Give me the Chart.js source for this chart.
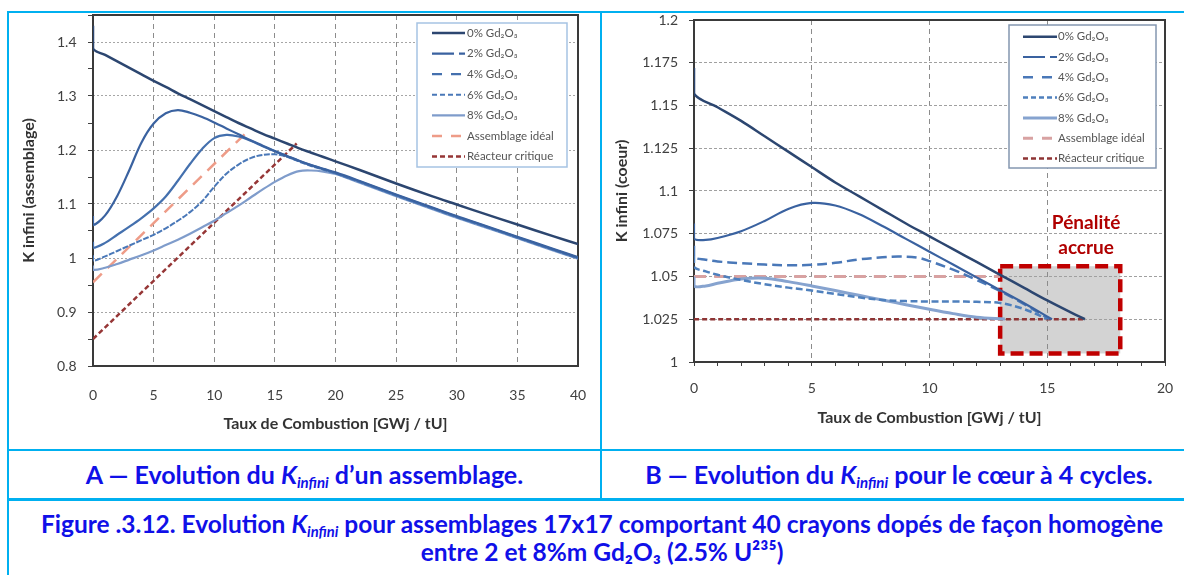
<!DOCTYPE html>
<html lang="fr">
<head>
<meta charset="utf-8">
<script src="https://cdn.jsdelivr.net/npm/chart.js@4.4.1/dist/chart.umd.min.js"></script>
<style>
  body { margin: 0; width: 1184px; height: 575px; overflow: hidden; background: #fff; position: relative; font-family: Lato, "Open Sans", sans-serif; }
  .ln { position: absolute; background: #00b0f0; }
  .chart { position: absolute; top: 13px; }
  .cap { position: absolute; color: #1010e8; font-weight: bold; text-align: center; white-space: nowrap; }
  .cap sub { font-size: 0.6em; vertical-align: -0.25em; line-height: 0; }
</style>
</head>
<body>
<div class="ln" style="left:7px; top:11px; width:1200px; height:2px"></div>
<div class="ln" style="left:7px; top:11px; width:2px; height:600px"></div>
<div class="ln" style="left:600px; top:11px; width:2px; height:489px"></div>
<div class="ln" style="left:7px; top:449px; width:1200px; height:2px"></div>
<div class="ln" style="left:7px; top:498px; width:1200px; height:3px"></div>

<canvas id="chartA" class="chart" width="590" height="436" style="left:9px"></canvas>
<canvas id="chartB" class="chart" width="573" height="436" style="left:603px"></canvas>

<div class="cap" style="left:9px; width:591px; top:451px; line-height:47px; font-size:25px">A — Evolution du <i>K<sub>infini</sub></i> d’un assemblage.</div>
<div class="cap" style="left:602px; width:594px; top:451px; line-height:47px; font-size:25px">B — Evolution du <i>K<sub>infini</sub></i> pour le cœur à 4 cycles.</div>
<div class="cap" style="left:9px; width:1186px; top:510px; line-height:28px; font-size:24.5px">Figure .3.12. Evolution <i>K<sub>infini</sub></i> pour assemblages 17x17 comportant 40 crayons dopés de façon homogène<br>entre 2 et 8%m Gd₂O₃ (2.5% U²³⁵)</div>

<script>
// Graphique A : assemblage
const burnupA = [0, 0, 1, 2, 3, 4, 5, 6, 7, 8, 9, 10, 11, 12, 13, 14, 15, 16, 17, 18, 19, 20, 22, 25, 28, 30, 32, 35, 38, 40];
const kA0 = [1.43, 1.388, 1.376, 1.364, 1.352, 1.340, 1.328, 1.317, 1.305, 1.294, 1.283, 1.272, 1.261, 1.250, 1.240, 1.230, 1.221, 1.212, 1.203, 1.195, 1.187, 1.179, 1.163, 1.138, 1.114, 1.099, 1.084, 1.062, 1.040, 1.026];
const kA2 = [1.078, 1.061, 1.079, 1.115, 1.163, 1.214, 1.249, 1.268, 1.274, 1.269, 1.261, 1.251, 1.240, 1.229, 1.218, 1.208, 1.198, 1.189, 1.180, 1.172, 1.165, 1.1585, 1.1425, 1.1175, 1.0935, 1.0775, 1.0625, 1.0395, 1.0165, 1.0015];
const kA4 = [1.030, 1.019, 1.028, 1.043, 1.058, 1.074, 1.092, 1.114, 1.143, 1.174, 1.202, 1.222, 1.228, 1.225, 1.217, 1.207, 1.1975, 1.1885, 1.1795, 1.1715, 1.1645, 1.1575, 1.1415, 1.1165, 1.0925, 1.0765, 1.0615, 1.0385, 1.0155, 1.0005];
const kA6 = [1.005, 0.995, 1.003, 1.013, 1.023, 1.033, 1.043, 1.055, 1.069, 1.085, 1.105, 1.132, 1.156, 1.173, 1.185, 1.191, 1.192, 1.1875, 1.1785, 1.1705, 1.1635, 1.1565, 1.1405, 1.1155, 1.0915, 1.0755, 1.0605, 1.0375, 1.0145, 0.9995];
const kA8 = [0.986, 0.978, 0.982, 0.989, 0.997, 1.005, 1.014, 1.024, 1.034, 1.045, 1.057, 1.069, 1.083, 1.097, 1.112, 1.127, 1.141, 1.153, 1.161, 1.162, 1.160, 1.1555, 1.1395, 1.1145, 1.0905, 1.0745, 1.0595, 1.0365, 1.0135, 0.9985];
const idealXA = [0, 13];
const idealKA = [0.955, 1.24];
const critXA = [0, 16.8];
const critKA = [0.85, 1.212];

// Graphique B : coeur à 4 cycles
const b0X = [0, 0, 1, 2, 3, 4, 5, 6, 7, 8, 9, 10, 11, 12, 13, 14, 15, 16, 16.6];
const b0K = [1.172, 1.157, 1.149, 1.141, 1.132, 1.123, 1.114, 1.105, 1.097, 1.089, 1.081, 1.0735, 1.066, 1.0585, 1.051, 1.0435, 1.036, 1.029, 1.025];
const b2X = [0, 0, 0.5, 1, 2, 3, 4, 5, 6, 7, 8, 9, 10, 11, 12, 13, 14, 15.2];
const b2K = [1.081, 1.0722, 1.0714, 1.0725, 1.0765, 1.0825, 1.0895, 1.093, 1.0915, 1.0865, 1.0795, 1.072, 1.0645, 1.057, 1.0495, 1.042, 1.0345, 1.025];
const b4X = [0, 0, 0.5, 1, 2, 3, 4, 5, 6, 7, 8, 8.7, 9.5, 10, 11, 12, 13, 14, 15.1];
const b4K = [1.068, 1.0615, 1.0598, 1.0588, 1.0578, 1.057, 1.0566, 1.0568, 1.058, 1.060, 1.0612, 1.0617, 1.061, 1.059, 1.054, 1.048, 1.0415, 1.034, 1.025];
const b6X = [0, 0, 0.5, 1, 2, 3, 4, 5, 6, 7, 8, 9, 10, 11, 12, 13, 14, 15];
const b6K = [1.062, 1.0555, 1.053, 1.051, 1.048, 1.0455, 1.0435, 1.0418, 1.0398, 1.0378, 1.0363, 1.0356, 1.0354, 1.0354, 1.0352, 1.0345, 1.031, 1.0252];
const b8X = [0, 0, 0.5, 1, 2, 3, 4, 5, 6, 7, 8, 9, 10, 11, 12, 13.2];
const b8K = [1.05, 1.0444, 1.0445, 1.046, 1.0485, 1.049, 1.047, 1.0445, 1.0418, 1.039, 1.0363, 1.0335, 1.0308, 1.0283, 1.0262, 1.0252];
const idealXB = [0, 13];
const idealKB = [1.05, 1.05];
const critXB = [0, 16.6];
const critKB = [1.025, 1.025];
const penaltyX = [13, 18.1];
const penaltyK = [1.005, 1.056];

const labels = ["0% Gd₂O₃", "2% Gd₂O₃", "4% Gd₂O₃", "6% Gd₂O₃", "8% Gd₂O₃", "Assemblage idéal", "Réacteur critique"];

function serie(label, xs, ys, color, width, dash, legendDash) {
  return {
    label: label,
    data: xs.map((x, i) => ({ x: x, y: ys[i] })),
    borderColor: color,
    backgroundColor: color,
    borderWidth: width,
    borderDash: dash,
    legendDash: legendDash || dash,
    pointRadius: 0,
    tension: 0.35,
    fill: false
  };
}

// cadre noir autour de la zone de tracé
const plotFrame = {
  id: 'plotFrame',
  beforeDatasetsDraw(chart) {
    const { ctx, chartArea: a } = chart;
    ctx.save();
    ctx.strokeStyle = '#3a3a3a';
    ctx.lineWidth = 2;
    ctx.strokeRect(a.left, a.top, a.right - a.left, a.bottom - a.top);
    ctx.restore();
  }
};

// légende encadrée dans le coin haut droit
const boxLegend = {
  id: 'boxLegend',
  afterDatasetsDraw(chart, args, o) {
    const { ctx, chartArea: a } = chart;
    const x = a.right - o.right - o.width;
    const y = a.top + o.top;
    ctx.save();
    ctx.fillStyle = '#fff';
    ctx.fillRect(x, y, o.width, o.height);
    ctx.strokeStyle = o.borderColor;
    ctx.lineWidth = 1.5;
    ctx.strokeRect(x, y, o.width, o.height);
    ctx.font = '11.5px Lato';
    ctx.textBaseline = 'middle';
    chart.data.datasets.forEach((ds, i) => {
      const ry = y + o.firstRow + i * o.rowGap;
      ctx.beginPath();
      ctx.setLineDash(ds.legendDash || []);
      ctx.strokeStyle = ds.borderColor;
      ctx.lineWidth = ds.borderWidth;
      ctx.moveTo(x + o.lineStart, ry);
      ctx.lineTo(x + o.lineEnd, ry);
      ctx.stroke();
      ctx.setLineDash([]);
      ctx.fillStyle = '#555';
      ctx.fillText(ds.label, x + o.textStart, ry);
    });
    ctx.restore();
  }
};

// zone grisée "Pénalité accrue"
const penaltyBox = {
  id: 'penaltyBox',
  beforeDraw(chart, args, o) {
    if (!o.x) return;
    const { ctx, scales: { x, y } } = chart;
    const l = x.getPixelForValue(o.x[0]), r = x.getPixelForValue(o.x[1]);
    const t = y.getPixelForValue(o.y[1]), b = y.getPixelForValue(o.y[0]);
    ctx.save();
    ctx.fillStyle = '#d3d3d3';
    ctx.fillRect(l, t, r - l, b - t);
    ctx.restore();
  },
  beforeDatasetsDraw(chart, args, o) {
    if (!o.x) return;
    const { ctx, scales: { x, y } } = chart;
    const l = x.getPixelForValue(o.x[0]), r = x.getPixelForValue(o.x[1]);
    const t = y.getPixelForValue(o.y[1]), b = y.getPixelForValue(o.y[0]);
    ctx.save();
    ctx.strokeStyle = '#c00000';
    ctx.lineWidth = 4.5;
    ctx.setLineDash([13, 6]);
    ctx.strokeRect(l, t, r - l, b - t);
    ctx.setLineDash([]);
    ctx.fillStyle = '#b00000';
    ctx.font = 'bold 19px Lato';
    ctx.textAlign = 'center';
    ctx.textBaseline = 'middle';
    o.text.forEach((txt, i) => {
      ctx.fillText(txt, x.getPixelForValue(o.textX), y.getPixelForValue(o.textY[i]));
    });
    ctx.restore();
  }
};

const tickFont = { family: 'Lato', size: 14 };
const titleFont = { family: 'Lato', size: 16, weight: 'bold' };

const dataA = {
  datasets: [
    serie(labels[0], burnupA, kA0, '#2c4670', 2.5, []),
    serie(labels[1], burnupA, kA2, '#3a62a0', 2.2, [], [22, 5]),
    serie(labels[2], burnupA, kA4, '#4470ae', 2.2, [], [10, 9]),
    serie(labels[3], burnupA, kA6, '#4a78b8', 2, [6, 1.5], [5, 3]),
    serie(labels[4], burnupA, kA8, '#7f9ccb', 2.2, []),
    serie(labels[5], idealXA, idealKA, '#ee9c88', 2.5, [12, 8], [10, 9]),
    serie(labels[6], critXA, critKA, '#963636', 2.5, [5, 3])
  ]
};

const configA = {
  type: 'line',
  data: dataA,
  plugins: [plotFrame, boxLegend, penaltyBox],
  options: {
    responsive: false,
    animation: false,
    devicePixelRatio: 1,
    events: [],
    layout: { padding: { left: 0, top: 2, right: 21, bottom: 0 } },
    plugins: {
      legend: { display: false },
      tooltip: { enabled: false },
      boxLegend: { right: 11, top: 8, width: 150, height: 144, firstRow: 10, rowGap: 20.6, lineStart: 15, lineEnd: 48, textStart: 50, borderColor: '#a6c3e3' },
      penaltyBox: {}
    },
    scales: {
      x: {
        type: 'linear',
        min: 0,
        max: 40,
        ticks: { stepSize: 5, padding: 20.6, color: '#404040', font: tickFont, maxRotation: 0, autoSkip: false },
        grid: { color: '#8c8c8c', drawTicks: false },
        border: { display: false, dash: [5, 4] },
        title: { display: true, text: 'Taux de Combustion [GWj / tU]', color: '#333', font: titleFont, padding: { top: 0, bottom: 15.4 } },
        afterFit: s => { s.height = 83; s.paddingLeft = 0; s.paddingRight = 0; }
      },
      y: {
        min: 0.8,
        max: 1.45,
        ticks: {
          stepSize: 0.05, padding: 11.5, color: '#404040', font: tickFont, autoSkip: false,
          callback: v => Math.round(v * 100) % 10 === 0 ? String(+v.toFixed(1)) : ''
        },
        grid: {
          color: c => Math.round(c.tick.value * 100) % 10 === 0 ? '#a6a6a6' : 'rgba(0,0,0,0)',
          tickColor: '#404040', tickLength: 5, tickWidth: 1, tickBorderDash: []
        },
        border: { display: false, dash: [2, 2] },
        title: { display: true, text: 'K infini (assemblage)', color: '#333', font: titleFont, padding: { top: 10.1, bottom: 0 } },
        afterFit: s => { s.width = 84; s.paddingTop = 0; s.paddingBottom = 0; }
      }
    }
  }
};

const chartA = new Chart(document.getElementById('chartA'), configA);

const dataB = {
  datasets: [
    serie(labels[0], b0X, b0K, '#2c4670', 2.5, []),
    serie(labels[1], b2X, b2K, '#3a62a0', 2.2, [], [22, 5]),
    serie(labels[2], b4X, b4K, '#4a78b8', 2.5, [10, 5], [10, 9]),
    serie(labels[3], b6X, b6K, '#4f80bd', 2.5, [7, 3.5], [5, 3]),
    serie(labels[4], b8X, b8K, '#86a3cf', 3, []),
    serie(labels[5], idealXB, idealKB, '#d8a2a2', 3, [12, 8], [10, 9]),
    serie(labels[6], critXB, critKB, '#8e3434', 2.5, [5, 3])
  ]
};

const configB = {
  type: 'line',
  data: dataB,
  plugins: [penaltyBox, plotFrame, boxLegend],
  options: {
    responsive: false,
    animation: false,
    devicePixelRatio: 1,
    events: [],
    layout: { padding: { left: 0, top: 7, right: 11, bottom: 0 } },
    plugins: {
      legend: { display: false },
      tooltip: { enabled: false },
      boxLegend: { right: 9, top: 5, width: 147, height: 143, firstRow: 11.7, rowGap: 20.3, lineStart: 14, lineEnd: 48, textStart: 49, borderColor: '#8497b0' },
      penaltyBox: { x: penaltyX, y: penaltyK, text: ['Pénalité', 'accrue'], textX: 16.65, textY: [1.0812, 1.0666] }
    },
    scales: {
      x: {
        type: 'linear',
        min: 0,
        max: 20,
        ticks: {
          stepSize: 1, padding: 13.6, color: '#404040', font: tickFont, maxRotation: 0, autoSkip: false,
          callback: v => v % 5 === 0 ? String(v) : ''
        },
        grid: {
          color: c => c.tick.value % 5 === 0 ? '#8c8c8c' : 'rgba(0,0,0,0)',
          tickColor: '#404040', tickLength: 4, tickWidth: 1, tickBorderDash: []
        },
        border: { display: false, dash: [5, 4] },
        title: { display: true, text: 'Taux de Combustion [GWj / tU]', color: '#333', font: titleFont, padding: { top: 0, bottom: 21.7 } },
        afterFit: s => { s.height = 87; s.paddingLeft = 0; s.paddingRight = 0; }
      },
      y: {
        min: 1,
        max: 1.2,
        ticks: {
          stepSize: 0.025, padding: 11, color: '#404040', font: tickFont, autoSkip: false,
          callback: v => String(+v.toFixed(3))
        },
        grid: { color: '#a0a0a0', tickColor: '#404040', tickLength: 5, tickWidth: 1, tickBorderDash: [] },
        border: { display: false, dash: [3, 2] },
        title: { display: true, text: 'K infini (coeur)', color: '#333', font: titleFont, padding: { top: 9.7, bottom: 0 } },
        afterFit: s => { s.width = 91; s.paddingTop = 0; s.paddingBottom = 0; }
      }
    }
  }
};

const chartB = new Chart(document.getElementById('chartB'), configB);
</script>
</body>
</html>
